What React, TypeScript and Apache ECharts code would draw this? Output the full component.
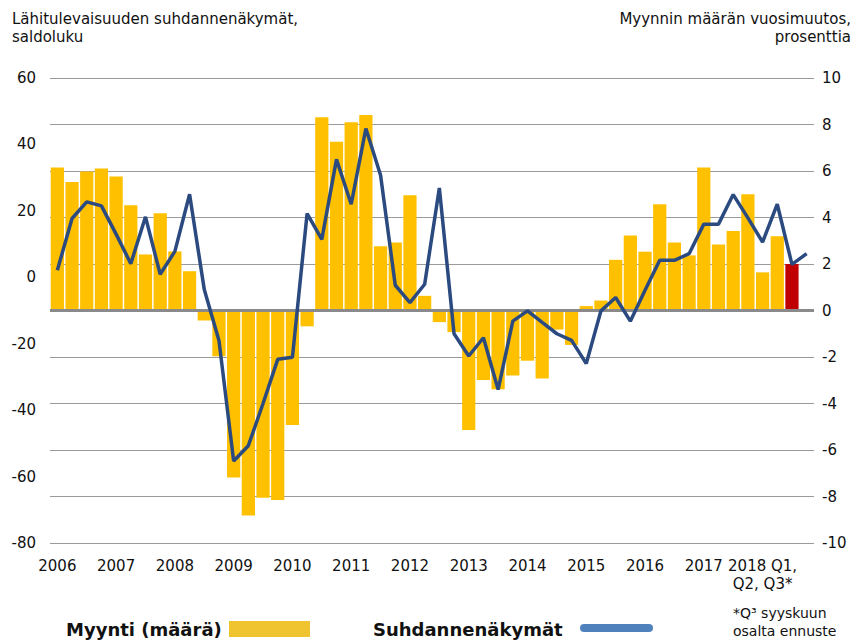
import React, { useEffect, useRef } from "react";
import * as echarts from "echarts";

const quarters = [
  "2006 Q1", "2006 Q2", "2006 Q3", "2006 Q4",
  "2007 Q1", "2007 Q2", "2007 Q3", "2007 Q4",
  "2008 Q1", "2008 Q2", "2008 Q3", "2008 Q4",
  "2009 Q1", "2009 Q2", "2009 Q3", "2009 Q4",
  "2010 Q1", "2010 Q2", "2010 Q3", "2010 Q4",
  "2011 Q1", "2011 Q2", "2011 Q3", "2011 Q4",
  "2012 Q1", "2012 Q2", "2012 Q3", "2012 Q4",
  "2013 Q1", "2013 Q2", "2013 Q3", "2013 Q4",
  "2014 Q1", "2014 Q2", "2014 Q3", "2014 Q4",
  "2015 Q1", "2015 Q2", "2015 Q3", "2015 Q4",
  "2016 Q1", "2016 Q2", "2016 Q3", "2016 Q4",
  "2017 Q1", "2017 Q2", "2017 Q3", "2017 Q4",
  "2018 Q1", "2018 Q2", "2018 Q3", "2018 Q4",
];

// tick labels shown under the x axis (keyed by category)
const xTickLabels: Record<string, string> = {
  "2006 Q1": "2006", "2007 Q1": "2007", "2008 Q1": "2008", "2009 Q1": "2009",
  "2010 Q1": "2010", "2011 Q1": "2011", "2012 Q1": "2012", "2013 Q1": "2013",
  "2014 Q1": "2014", "2015 Q1": "2015", "2016 Q1": "2016", "2017 Q1": "2017",
  "2018 Q1": "2018 Q1,\nQ2, Q3*",
};

// Myynnin määrän vuosimuutos, % (right axis)
const salesChange: (number | null)[] = [
  6.15, 5.53, 5.98, 6.11, 5.76, 4.53, 2.41, 4.18, 2.54, 1.69,
  -0.43, -1.97, -7.18, -8.82, -8.05, -8.15, -4.93, -0.68, 8.31, 7.26,
  8.10, 8.41, 2.76, 2.93, 4.96, 0.63, -0.50, -0.93, -5.14, -2.99,
  -3.39, -2.80, -2.16, -2.93, -0.82, -1.48, 0.19, 0.43, 2.18, 3.23,
  2.53, 4.57, 2.93, 2.37, 6.15, 2.84, 3.42, 5.00, 1.64, 3.19,
  2.00, null,
];
const forecastIndex = 50;

// Lähitulevaisuuden suhdannenäkymät, saldoluku (left axis)
const outlook: number[] = [
  2.1, 17.7, 22.7, 21.5, 13.0, 4.1, 18.2, 0.9, 7.8, 25.0,
  -3.7, -19.0, -55.3, -50.7, -38.0, -24.7, -24.1, 19.2, 11.4, 35.5,
  22.0, 44.8, 30.7, -2.4, -7.6, -2.1, 26.9, -17.0, -23.7, -18.2,
  -33.8, -13.2, -10.1, -13.6, -17.0, -19.0, -26.0, -10.1, -6.1, -13.2,
  -3.9, 5.1, 5.1, 7.1, 16.0, 16.0, 24.9, 17.9, 10.6, 22.0,
  3.9, 7.1,
];

const leftTitle = "Lähitulevaisuuden suhdannenäkymät,\nsaldoluku";
const rightTitle = "Myynnin määrän vuosimuutos,\nprosenttia";
const legendBars = "Myynti (määrä)";
const legendLine = "Suhdannenäkymät";
const note = "*Q³ syyskuun\nosalta ennuste";

const FONT = "DejaVu Sans";

export default function App() {
  const ref = useRef<HTMLDivElement>(null);
  useEffect(() => {
    if (!ref.current) return;
    const chart = echarts.init(ref.current, undefined, { renderer: "svg" });
    const barData = salesChange.map((v, i) =>
      i === forecastIndex
        ? { value: v, itemStyle: { color: "#C00000" } }
        : v
    );
    chart.setOption({
      animation: false,
      backgroundColor: "#ffffff",
      textStyle: { fontFamily: FONT },
      grid: { left: 50, right: 53, top: 78, bottom: 100, containLabel: false },
      xAxis: {
        type: "category",
        data: quarters,
        axisLine: { show: false },
        axisTick: { show: false },
        axisLabel: {
          interval: 0,
          margin: 14,
          fontSize: 15,
          lineHeight: 18,
          color: "#111",
          fontFamily: FONT,
          formatter: (v: string) => xTickLabels[v] ?? "",
        },
      },
      yAxis: [
        {
          type: "value",
          min: -80,
          max: 60,
          interval: 20,
          position: "left",
          axisLine: { show: false },
          axisTick: { show: false },
          splitLine: { show: false },
          axisLabel: { margin: 14, fontSize: 15, color: "#111", fontFamily: FONT },
        },
        {
          type: "value",
          min: -10,
          max: 10,
          interval: 2,
          position: "right",
          axisLine: { show: false },
          axisTick: { show: false },
          splitLine: { show: true, lineStyle: { color: "#9a9a9a", width: 1 } },
          axisLabel: { margin: 8, fontSize: 15, color: "#111", fontFamily: FONT, align: "left" },
        },
      ],
      series: [
        {
          name: legendBars,
          type: "bar",
          yAxisIndex: 1,
          data: barData,
          barCategoryGap: "10%",
          itemStyle: { color: "#FFC000" },
          markLine: {
            silent: true,
            symbol: "none",
            label: { show: false },
            lineStyle: { color: "#8a8a8a", width: 3, type: "solid" },
            data: [{ yAxis: 0 }],
          },
          z: 2,
        },
        {
          name: legendLine,
          type: "line",
          yAxisIndex: 0,
          data: outlook,
          symbol: "none",
          lineStyle: { color: "#2B4A80", width: 3.5 },
          itemStyle: { color: "#2B4A80" },
          z: 5,
        },
      ],
      graphic: [
        {
          type: "text",
          x: 12,
          y: 10,
          style: { text: leftTitle, font: `15px ${FONT}`, fill: "#111", lineHeight: 18, align: "left", verticalAlign: "top" },
        },
        {
          type: "text",
          x: 851,
          y: 10,
          style: { text: rightTitle, font: `15px ${FONT}`, fill: "#111", lineHeight: 18, align: "right", verticalAlign: "top" },
        },
        {
          type: "text",
          x: 66,
          y: 629,
          style: { text: legendBars, font: `bold 18px ${FONT}`, fill: "#111", align: "left", verticalAlign: "middle" },
        },
        {
          type: "rect",
          shape: { x: 229, y: 621, width: 81, height: 16 },
          style: { fill: "#F0C430" },
        },
        {
          type: "text",
          x: 373,
          y: 629,
          style: { text: legendLine, font: `bold 18px ${FONT}`, fill: "#111", align: "left", verticalAlign: "middle" },
        },
        {
          type: "rect",
          shape: { x: 580, y: 624, width: 73, height: 8, r: 4 },
          style: { fill: "#4F81BD" },
        },
        {
          type: "text",
          x: 733,
          y: 604,
          style: { text: note, font: `14px ${FONT}`, fill: "#111", lineHeight: 18, align: "left", verticalAlign: "top" },
        },
      ],
    });
    return () => chart.dispose();
  }, []);
  return (
    <div
      ref={ref}
      style={{ position: "absolute", left: 0, top: 0, width: 867, height: 643 }}
    />
  );
}
